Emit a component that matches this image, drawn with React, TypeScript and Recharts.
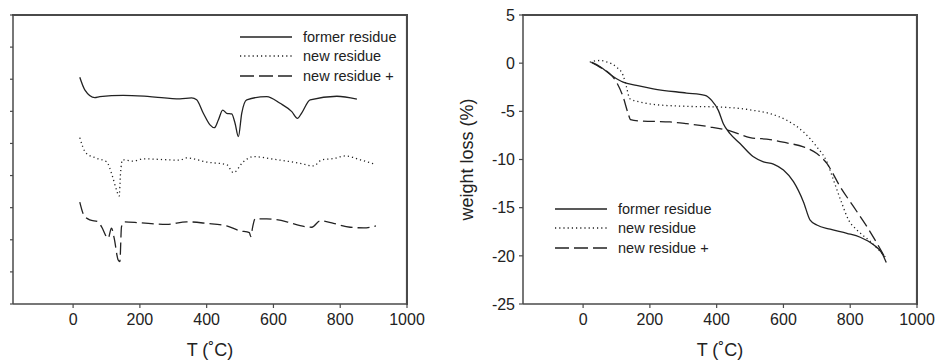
import React from 'react';
import { LineChart, Line, XAxis, YAxis, Legend, ReferenceLine } from 'recharts';

// ---------- shared ----------
const xTicks = [0, 200, 400, 600, 800, 1000];
const xDomain = [-180, 1000];
const seriesNames = ['former residue', 'new residue', 'new residue +'];

// ---------- left panel (DTA, arbitrary units, no tick labels) ----------
const leftYTicks = [0, 1, 2, 3, 4, 5, 6, 7, 8, 9];
const leftYDomain = [0, 9];

const dtaFormer = [
  { t: 20, v: 7.06 }, { t: 35, v: 6.67 }, { t: 65, v: 6.43 }, { t: 80, v: 6.46 },
  { t: 150, v: 6.5 }, { t: 230, v: 6.46 }, { t: 320, v: 6.39 }, { t: 355, v: 6.42 },
  { t: 370, v: 6.36 }, { t: 390, v: 5.94 }, { t: 410, v: 5.58 }, { t: 423, v: 5.49 },
  { t: 435, v: 5.73 }, { t: 448, v: 6.04 }, { t: 460, v: 5.94 }, { t: 475, v: 5.92 },
  { t: 485, v: 5.63 }, { t: 495, v: 5.21 }, { t: 505, v: 5.94 }, { t: 520, v: 6.36 },
  { t: 580, v: 6.46 }, { t: 620, v: 6.25 }, { t: 655, v: 5.99 }, { t: 672, v: 5.78 },
  { t: 684, v: 5.94 }, { t: 710, v: 6.36 }, { t: 790, v: 6.47 }, { t: 850, v: 6.38 },
];

const dtaNew = [
  { t: 20, v: 5.18 }, { t: 38, v: 4.71 }, { t: 70, v: 4.54 }, { t: 100, v: 4.43 },
  { t: 118, v: 3.97 }, { t: 130, v: 3.55 }, { t: 138, v: 3.36 }, { t: 142, v: 4.07 },
  { t: 148, v: 4.49 }, { t: 180, v: 4.45 }, { t: 210, v: 4.52 }, { t: 320, v: 4.48 },
  { t: 340, v: 4.55 }, { t: 400, v: 4.42 }, { t: 460, v: 4.34 }, { t: 480, v: 4.09 },
  { t: 510, v: 4.43 }, { t: 540, v: 4.59 }, { t: 600, v: 4.51 }, { t: 680, v: 4.38 },
  { t: 720, v: 4.3 }, { t: 745, v: 4.49 }, { t: 780, v: 4.53 }, { t: 815, v: 4.61 },
  { t: 860, v: 4.49 }, { t: 907, v: 4.34 },
];

const dtaNewPlus = [
  { t: 20, v: 3.17 }, { t: 32, v: 2.77 }, { t: 50, v: 2.62 }, { t: 75, v: 2.56 },
  { t: 85, v: 2.41 }, { t: 105, v: 2.05 }, { t: 115, v: 2.36 }, { t: 123, v: 2.05 },
  { t: 135, v: 1.37 }, { t: 140, v: 1.32 }, { t: 145, v: 2.41 }, { t: 155, v: 2.56 },
  { t: 200, v: 2.53 }, { t: 280, v: 2.48 }, { t: 340, v: 2.56 }, { t: 400, v: 2.51 },
  { t: 460, v: 2.43 }, { t: 500, v: 2.28 }, { t: 528, v: 2.22 }, { t: 532, v: 2.1 },
  { t: 538, v: 2.41 }, { t: 545, v: 2.65 }, { t: 580, v: 2.65 }, { t: 640, v: 2.56 },
  { t: 680, v: 2.44 }, { t: 715, v: 2.39 }, { t: 740, v: 2.59 }, { t: 780, v: 2.51 },
  { t: 830, v: 2.39 }, { t: 870, v: 2.37 }, { t: 907, v: 2.43 },
];

// ---------- right panel (weight loss %) ----------
const rightYTicks = [-25, -20, -15, -10, -5, 0, 5];
const rightYDomain = [-25, 5];

const tgFormer = [
  { t: 25, v: 0.1 }, { t: 50, v: -0.34 }, { t: 90, v: -1.38 }, { t: 120, v: -1.97 },
  { t: 160, v: -2.31 }, { t: 210, v: -2.66 }, { t: 310, v: -3.1 }, { t: 365, v: -3.34 },
  { t: 385, v: -3.86 }, { t: 405, v: -4.9 }, { t: 420, v: -6.28 }, { t: 440, v: -7.31 },
  { t: 470, v: -8.34 }, { t: 510, v: -9.72 }, { t: 540, v: -10.24 }, { t: 570, v: -10.48 },
  { t: 600, v: -11.1 }, { t: 630, v: -12.3 }, { t: 660, v: -14.4 }, { t: 680, v: -16.3 },
  { t: 700, v: -16.8 }, { t: 740, v: -17.24 }, { t: 790, v: -17.66 }, { t: 830, v: -18.07 },
  { t: 870, v: -18.86 }, { t: 895, v: -19.72 }, { t: 908, v: -20.7 },
];

const tgNew = [
  { t: 20, v: 0.1 }, { t: 50, v: 0.28 }, { t: 70, v: 0.14 }, { t: 100, v: -0.41 },
  { t: 120, v: -1.28 }, { t: 130, v: -2.48 }, { t: 140, v: -3.69 }, { t: 170, v: -4.03 },
  { t: 210, v: -4.28 }, { t: 310, v: -4.48 }, { t: 410, v: -4.55 }, { t: 510, v: -4.9 },
  { t: 560, v: -5.24 }, { t: 610, v: -5.93 }, { t: 660, v: -7.14 }, { t: 700, v: -8.69 },
  { t: 730, v: -10.24 }, { t: 750, v: -12.14 }, { t: 775, v: -14.55 }, { t: 795, v: -16.28 },
  { t: 820, v: -17.31 }, { t: 860, v: -18.5 }, { t: 908, v: -20.24 },
];

const tgNewPlus = [
  { t: 25, v: 0.07 }, { t: 50, v: -0.41 }, { t: 80, v: -1.1 }, { t: 100, v: -1.97 },
  { t: 120, v: -3.52 }, { t: 135, v: -5.24 }, { t: 142, v: -5.86 }, { t: 170, v: -6.0 },
  { t: 260, v: -6.1 }, { t: 310, v: -6.28 }, { t: 380, v: -6.62 }, { t: 440, v: -7.03 },
  { t: 500, v: -7.72 }, { t: 560, v: -7.93 }, { t: 610, v: -8.28 }, { t: 660, v: -8.69 },
  { t: 700, v: -9.38 }, { t: 730, v: -10.41 }, { t: 770, v: -12.83 }, { t: 810, v: -14.9 },
  { t: 850, v: -16.97 }, { t: 880, v: -18.69 }, { t: 908, v: -20.41 },
];

// ---------- styles ----------
const FONT = '"Liberation Sans", Arial, Helvetica, sans-serif';
const INK = '#222';
const FRAME = '#4a4a4a';
const LINE_W = 1.3;
const dashes = [undefined, '1.2 3', '12 5'];
const legendDashes = [undefined, '1.2 3', '14 5'];

const tickStyle = { fontSize: 16, fill: INK, fontFamily: FONT };

const LegendBox = () => (
  <div style={{ fontFamily: FONT, fontSize: 14.5, color: INK }}>
    {seriesNames.map((name, i) => (
      <div key={name} style={{ display: 'flex', alignItems: 'center', height: 19.5 }}>
        <svg width={52} height={6} style={{ display: 'block' }}>
          <line x1={0} y1={3} x2={52} y2={3} stroke={INK} strokeWidth={LINE_W} strokeDasharray={legendDashes[i]} />
        </svg>
        <span style={{ marginLeft: 11, whiteSpace: 'nowrap' }}>{name}</span>
      </div>
    ))}
  </div>
);

const blank = () => '';

const axisCommon = {
  stroke: FRAME,
  axisLine: { stroke: FRAME, strokeWidth: 1.5 },
  tickLine: { stroke: FRAME, strokeWidth: 1.2 },
};

// top and right edges of the plot frame, as solid bars (decoration only)
const FrameEdges = ({ left, top, width, height }: { left: number; top: number; width: number; height: number }) => (
  <>
    <div style={{ position: 'absolute', left: left - 1, top: top - 1, width: width + 2, height: 2, background: FRAME, zIndex: 5 }} />
    <div style={{ position: 'absolute', left: left + width - 1, top: top - 1, width: 2, height: height + 2, background: FRAME, zIndex: 5 }} />
  </>
);

export default function App() {
  return (
    <div style={{ position: 'absolute', left: 0, top: 0, width: 935, height: 362, background: '#fff', fontFamily: FONT }}>
      <div style={{ position: 'absolute', left: 0, top: 0, width: 440, height: 362 }}>
        <LineChart width={440} height={362} margin={{ top: 15, right: 33, bottom: 0, left: 0 }}>
          <XAxis
            type="number"
            dataKey="t"
            domain={xDomain}
            ticks={xTicks}
            allowDataOverflow
            height={58}
            tickSize={4}
            tickMargin={6}
            tick={tickStyle}
            {...axisCommon}
            label={{ value: 'T (˚C)', position: 'insideBottom', offset: 6, style: { fontSize: 18, fill: INK, fontFamily: FONT } }}
          />
          <YAxis
            type="number"
            domain={leftYDomain}
            ticks={leftYTicks}
            allowDataOverflow
            width={13}
            tickSize={3}
            tickFormatter={blank}
            {...axisCommon}
          />
          <ReferenceLine y={8.99} stroke={FRAME} strokeWidth={1.5} />
          <ReferenceLine x={999} stroke={FRAME} strokeWidth={1.5} />
          <Line data={dtaFormer} dataKey="v" name={seriesNames[0]} type="monotone" stroke={INK} strokeWidth={LINE_W} dot={false} isAnimationActive={false} />
          <Line data={dtaNew} dataKey="v" name={seriesNames[1]} type="monotone" stroke={INK} strokeWidth={LINE_W} strokeDasharray={dashes[1]} dot={false} isAnimationActive={false} />
          <Line data={dtaNewPlus} dataKey="v" name={seriesNames[2]} type="monotone" stroke={INK} strokeWidth={LINE_W} strokeDasharray={dashes[2]} dot={false} isAnimationActive={false} />
          <Legend
            layout="horizontal"
            verticalAlign="middle"
            align="center"
            content={LegendBox}
            wrapperStyle={{ position: 'absolute', left: 240, top: 27, width: 170 }}
          />
        </LineChart>
        <FrameEdges left={13} top={15} width={394} height={289} />
      </div>
      <div style={{ position: 'absolute', left: 420, top: 0, width: 515, height: 362 }}>
        <LineChart width={515} height={362} margin={{ top: 15, right: 18, bottom: 0, left: 0 }}>
          <XAxis
            type="number"
            dataKey="t"
            domain={xDomain}
            ticks={xTicks}
            allowDataOverflow
            height={58}
            tickSize={4}
            tickMargin={6}
            tick={tickStyle}
            {...axisCommon}
            label={{ value: 'T (˚C)', position: 'insideBottom', offset: 6, style: { fontSize: 18, fill: INK, fontFamily: FONT } }}
          />
          <YAxis
            type="number"
            domain={rightYDomain}
            ticks={rightYTicks}
            allowDataOverflow
            width={103}
            tickSize={4}
            tickMargin={4}
            tick={tickStyle}
            {...axisCommon}
            label={{ value: 'weight loss (%)', angle: -90, position: 'insideLeft', offset: 47, style: { textAnchor: 'middle', fontSize: 18, fill: INK, fontFamily: FONT } }}
          />
          <ReferenceLine y={4.97} stroke={FRAME} strokeWidth={1.5} />
          <ReferenceLine x={999} stroke={FRAME} strokeWidth={1.5} />
          <Line data={tgFormer} dataKey="v" name={seriesNames[0]} type="monotone" stroke={INK} strokeWidth={LINE_W} dot={false} isAnimationActive={false} />
          <Line data={tgNew} dataKey="v" name={seriesNames[1]} type="monotone" stroke={INK} strokeWidth={LINE_W} strokeDasharray={dashes[1]} dot={false} isAnimationActive={false} />
          <Line data={tgNewPlus} dataKey="v" name={seriesNames[2]} type="monotone" stroke={INK} strokeWidth={LINE_W} strokeDasharray={dashes[2]} dot={false} isAnimationActive={false} />
          <Legend
            layout="horizontal"
            verticalAlign="middle"
            align="center"
            content={LegendBox}
            wrapperStyle={{ position: 'absolute', left: 135, top: 199, width: 170 }}
          />
        </LineChart>
        <FrameEdges left={103} top={15} width={394} height={289} />
      </div>
    </div>
  );
}
